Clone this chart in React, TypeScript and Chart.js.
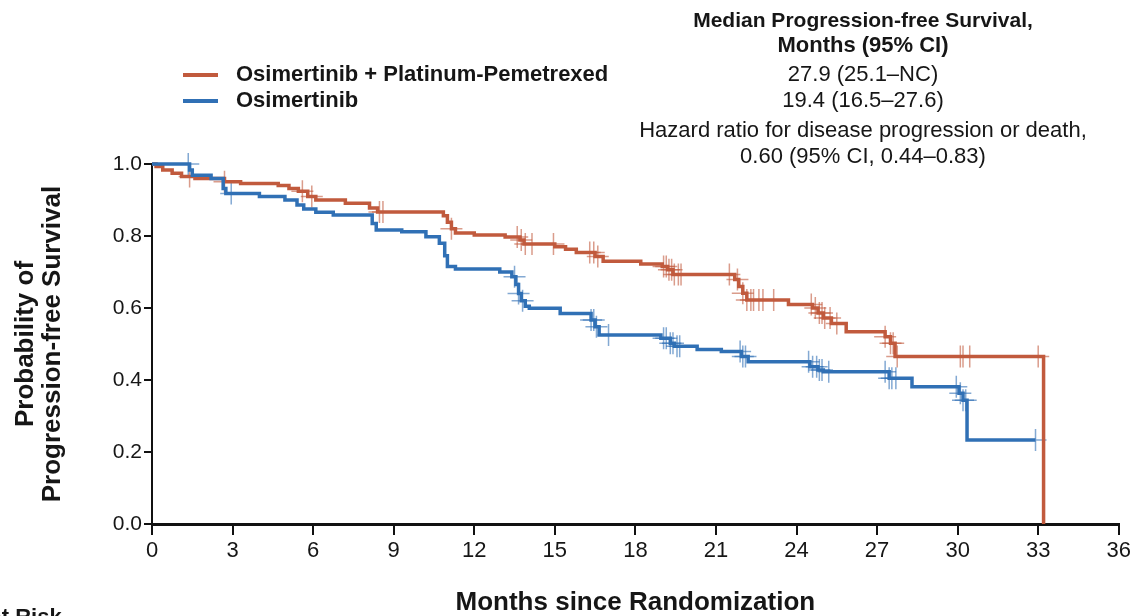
import { useEffect, useRef } from 'react';
import { Chart, registerables } from 'chart.js';

Chart.register(...registerables);

// Kaplan–Meier steps: [month, survival probability after the event at that month]
const comboSteps: [number, number][] = [
  [0, 1.0], [0.15, 0.993], [0.4, 0.983], [0.75, 0.974], [1.1, 0.965], [1.6, 0.96],
  [2.7, 0.951], [3.3, 0.946], [4.7, 0.94], [5.1, 0.932], [5.45, 0.924], [5.8, 0.91],
  [6.1, 0.9], [7.2, 0.891], [8.1, 0.878], [8.4, 0.867], [10.85, 0.856], [11.0, 0.838],
  [11.15, 0.82], [11.3, 0.808], [12.0, 0.803], [13.15, 0.797], [13.7, 0.789], [13.85, 0.778],
  [15.0, 0.77], [15.4, 0.763], [15.8, 0.754], [16.5, 0.743], [16.8, 0.73], [18.2, 0.722],
  [19.0, 0.715], [19.2, 0.706], [19.4, 0.693], [21.7, 0.679], [21.85, 0.66], [22.0, 0.641],
  [22.15, 0.622], [23.7, 0.61], [24.6, 0.6], [24.8, 0.586], [25.0, 0.572], [25.3, 0.557],
  [25.85, 0.534], [27.3, 0.52], [27.5, 0.502], [27.67, 0.465], [33.2, 0.0],
];

const monoSteps: [number, number][] = [
  [0, 1.0], [1.4, 0.983], [1.5, 0.969], [2.2, 0.96], [2.65, 0.932], [2.75, 0.918],
  [4.0, 0.91], [4.95, 0.9], [5.4, 0.886], [5.65, 0.875], [6.1, 0.866], [6.75, 0.858],
  [8.2, 0.835], [8.35, 0.817], [9.3, 0.812], [10.2, 0.798], [10.7, 0.78], [10.9, 0.745],
  [11.0, 0.715], [11.3, 0.708], [12.95, 0.7], [13.4, 0.687], [13.55, 0.665], [13.65, 0.64],
  [13.75, 0.62], [13.9, 0.605], [14.05, 0.599], [15.2, 0.585], [16.35, 0.567], [16.5, 0.548],
  [16.65, 0.525], [18.95, 0.516], [19.3, 0.502], [19.45, 0.494], [20.3, 0.485], [21.2, 0.479],
  [21.95, 0.465], [22.2, 0.451], [24.5, 0.437], [24.8, 0.428], [25.0, 0.423], [27.45, 0.405],
  [28.3, 0.381], [30.05, 0.363], [30.2, 0.344], [30.35, 0.233], [32.9, 0.233],
];

// Censoring times (months)
const comboCensored: number[] = [
  1.4, 2.7, 5.6, 5.95, 8.47, 8.6, 11.15, 13.6, 13.75, 13.9, 14.15, 14.95, 16.3, 16.45, 16.6,
  19.05, 19.15, 19.25, 19.35, 19.45, 19.6, 19.7, 21.5, 21.8, 22.0, 22.15, 22.3, 22.4, 22.6,
  22.75, 23.15, 24.55, 24.7, 24.85, 24.95, 25.05, 25.25, 25.5, 27.3, 27.5, 27.6, 27.75,
  30.1, 30.2, 30.45, 33.0,
];

const monoCensored: number[] = [
  1.35, 2.95, 13.5, 13.65, 13.8, 16.35, 16.45, 16.55, 17.0, 19.05, 19.15, 19.3, 19.4, 19.55,
  19.65, 21.9, 22.0, 22.1, 24.45, 24.6, 24.75, 24.85, 24.95, 25.2, 27.3, 27.45, 27.55, 27.7,
  29.95, 30.1, 30.2, 30.3, 32.9,
];

const seriesNames = ['Osimertinib + Platinum-Pemetrexed', 'Osimertinib'];
const medianLabels = ['27.9 (25.1–NC)', '19.4 (16.5–27.6)'];
const headerLines = ['Median Progression-free Survival,', 'Months (95% CI)'];
const hazardLines = ['Hazard ratio for disease progression or death,', '0.60 (95% CI, 0.44–0.83)'];
const xTitle = 'Months since Randomization';
const yTitleLines = ['Probability of', 'Progression-free Survival'];
const riskTableTitle = 'No. at Risk';

const COMBO = '#C15A3D';
const MONO = '#3070B5';
const COMBO_CENSOR = 'rgba(193, 90, 61, 0.6)';
const MONO_CENSOR = 'rgba(48, 112, 181, 0.6)';
const FONT = '"Liberation Sans", Arial, Helvetica, sans-serif';
const INK = '#161616';

function survivalAt(steps: [number, number][], t: number): number {
  let s = steps[0][1];
  for (const [m, v] of steps) {
    if (m <= t) s = v;
    else break;
  }
  return s;
}

const textPlugin = {
  id: 'pfsText',
  afterDraw(chart: Chart) {
    const ctx = chart.ctx;
    const area = chart.chartArea;
    ctx.save();
    ctx.fillStyle = INK;
    ctx.textBaseline = 'middle';

    // Legend
    const legendRows = [75, 101];
    const legendColors = [COMBO, MONO];
    legendRows.forEach((y, i) => {
      ctx.strokeStyle = legendColors[i];
      ctx.lineWidth = 4;
      ctx.beginPath();
      ctx.moveTo(183, y);
      ctx.lineTo(218, y);
      ctx.stroke();
      ctx.textAlign = 'left';
      ctx.font = `bold 22px ${FONT}`;
      ctx.fillText(seriesNames[i], 236, y);
    });

    // Median PFS block
    const cx = 863;
    ctx.textAlign = 'center';
    ctx.font = `bold 21px ${FONT}`;
    ctx.fillText(headerLines[0], cx, 21);
    ctx.font = `bold 22px ${FONT}`;
    ctx.fillText(headerLines[1], cx, 46);
    ctx.font = `22px ${FONT}`;
    ctx.fillText(medianLabels[0], cx, legendRows[0]);
    ctx.fillText(medianLabels[1], cx, legendRows[1]);
    ctx.fillText(hazardLines[0], cx, 131);
    ctx.fillText(hazardLines[1], cx, 157);

    // Axis titles
    ctx.font = `bold 26px ${FONT}`;
    ctx.fillText(xTitle, (area.left + area.right) / 2, 603);

    ctx.save();
    ctx.translate(26, (area.top + area.bottom) / 2);
    ctx.rotate(-Math.PI / 2);
    ctx.textAlign = 'center';
    ctx.fillText(yTitleLines[0], 0, 0);
    ctx.fillText(yTitleLines[1], 0, 27);
    ctx.restore();

    // Start of the risk table, below the plot
    ctx.textAlign = 'left';
    ctx.textBaseline = 'alphabetic';
    ctx.font = `bold 22px ${FONT}`;
    ctx.fillText(riskTableTitle, -52, 624);
    ctx.restore();
  },
};

export default function App() {
  const canvasRef = useRef<HTMLCanvasElement | null>(null);

  useEffect(() => {
    const canvas = canvasRef.current;
    if (!canvas) return;

    const comboLine = comboSteps.map(([x, y]) => ({ x, y }));
    const monoLine = monoSteps.map(([x, y]) => ({ x, y }));
    const comboMarks = comboCensored.map((x) => ({ x, y: survivalAt(comboSteps, x) }));
    const monoMarks = monoCensored.map((x) => ({ x, y: survivalAt(monoSteps, x) }));

    const censorStyle = {
      type: 'scatter' as const,
      pointStyle: 'cross' as const,
      pointRadius: 11,
      pointBorderWidth: 1.5,
      showLine: false,
      clip: false as const,
    };

    const chart = new Chart(canvas, {
      type: 'line',
      data: {
        datasets: [
          {
            ...censorStyle,
            label: 'combo censored',
            data: comboMarks,
            borderColor: COMBO_CENSOR,
            backgroundColor: COMBO_CENSOR,
            order: 3,
          },
          {
            ...censorStyle,
            label: 'mono censored',
            data: monoMarks,
            borderColor: MONO_CENSOR,
            backgroundColor: MONO_CENSOR,
            order: 2,
          },
          {
            label: seriesNames[0],
            data: comboLine,
            borderColor: COMBO,
            borderWidth: 3.5,
            stepped: 'before',
            pointRadius: 0,
            fill: false,
            clip: false,
            order: 1,
          },
          {
            label: seriesNames[1],
            data: monoLine,
            borderColor: MONO,
            borderWidth: 3.5,
            stepped: 'before',
            pointRadius: 0,
            fill: false,
            clip: false,
            order: 0,
          },
        ],
      },
      options: {
        responsive: false,
        animation: false,
        devicePixelRatio: 1,
        layout: { padding: { top: 164, right: 13, left: 0, bottom: 0 } },
        plugins: {
          legend: { display: false },
          tooltip: { enabled: false },
        },
        scales: {
          x: {
            type: 'linear',
            min: 0,
            max: 36,
            afterFit: (scale: any) => {
              scale.height = 92;
            },
            border: { display: true, color: '#111', width: 3 },
            grid: {
              drawOnChartArea: false,
              drawTicks: true,
              tickLength: 11,
              color: '#111',
              lineWidth: 2,
            },
            ticks: {
              stepSize: 3,
              autoSkip: false,
              maxRotation: 0,
              padding: 3,
              color: INK,
              font: { family: FONT, size: 22 },
            },
          },
          y: {
            type: 'linear',
            min: 0,
            max: 1,
            afterFit: (scale: any) => {
              scale.width = 152;
            },
            border: { display: true, color: '#111', width: 2 },
            grid: {
              drawOnChartArea: false,
              drawTicks: true,
              tickLength: 8,
              color: '#111',
              lineWidth: 2,
            },
            ticks: {
              stepSize: 0.2,
              padding: 2,
              color: INK,
              font: { family: FONT, size: 21 },
              callback: (v: any) => Number(v).toFixed(1),
            },
          },
        },
      },
      plugins: [textPlugin],
    });

    return () => chart.destroy();
  }, []);

  return (
    <div
      style={{
        position: 'fixed',
        left: 0,
        top: 0,
        width: 1134,
        height: 616,
        background: '#fff',
        overflow: 'hidden',
      }}
    >
      <canvas ref={canvasRef} width={1134} height={616} style={{ display: 'block' }} />
    </div>
  );
}
